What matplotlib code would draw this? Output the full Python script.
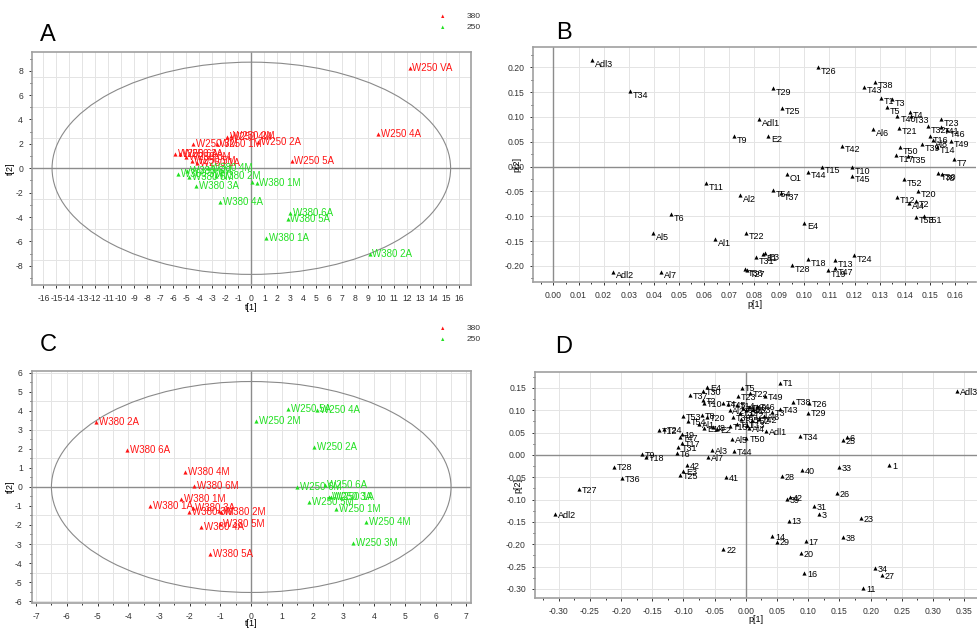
import matplotlib.pyplot as plt
from matplotlib.patches import Ellipse
from matplotlib.ticker import MultipleLocator, FormatStrFormatter

plt.rcParams['font.family'] = ['Liberation Sans', 'DejaVu Sans']

RED = '#ff1414'
GREEN = '#22e022'
FRAME = '#a0a0a0'
GRID = '#e4e4e4'
ZERO = '#8c8c8c'

# ---- Panel A: scores, 380 nm (red) / 250 nm (green) ----
a_red_lab = ['W250 VA', 'W250 4A', 'W250 5A', 'W250 2A', 'W250 4M', 'W250 2M', 'W250 1M',
             'W250 3M', 'W250 6A', 'W250 3A', 'W250 6M', 'W250 5M', 'W250 1A']
a_red_x = [12.17, 9.74, 3.10, 0.55, -1.85, -1.6, -2.65, -4.45, -5.85, -5.45, -5.0, -4.6, -4.19]
a_red_y = [8.25, 2.84, 0.57, 2.15, 2.59, 2.65, 1.99, 1.99, 1.15, 1.2, 0.95, 0.6, 0.41]

a_grn_lab = ['W380 2A', 'W380 1A', 'W380 5A', 'W380 6A', 'W380 1M', '', 'W380 4A',
             'W380 3A', 'W380 2M', 'W380 4M', 'W380 6M', 'W380 5M', 'W380 3M']
a_grn_x = [9.1, 1.13, 2.79, 2.97, 0.41, 0.03, -2.4, -4.24, -2.7, -3.35, -4.96, -4.76, -5.65]
a_grn_y = [-7.02, -5.69, -4.16, -3.64, -1.23, -1.15, -2.79, -1.42, -0.6, 0.0, -0.19, -0.68, -0.46]

# ---- Panel B: loadings p[1]/p[2] ----
b_lab = ['Adl3', 'T34', 'T9', 'T11', 'T6', 'Al5', 'Al1', 'Adl2', 'Al7', 'T26', 'T29', 'T25',
         'Adl1', 'E2', 'T42', 'T38', 'T43', 'T1', 'T3', 'T5', 'T4', 'T40', 'T33', 'Al6', 'T21',
         'T23', 'T32', 'T41', 'T46', 'T16', 'Al8', 'T39', 'T14', 'T49', 'T50', 'T17', 'T35',
         'T7', 'T15', 'T10', 'T44', 'O1', 'T45', 'T30', 'T8', 'T52', 'T20', 'T12', 'Al4', 'T2',
         'T53', 'T51', 'T54', 'T37', 'Al2', 'E4', 'T22', 'T31', 'E1', 'E3', 'T18', 'T28', 'T13',
         'T24', 'T19', 'T47', 'T36', 'T27']
b_x = [0.0153, 0.0306, 0.0721, 0.0608, 0.0469, 0.0398, 0.0644, 0.0239, 0.0428, 0.1056, 0.0874,
       0.0912, 0.0821, 0.0857, 0.1151, 0.1282, 0.1239, 0.1304, 0.1351, 0.1328, 0.1421, 0.1371,
       0.1424, 0.1275, 0.1378, 0.1543, 0.1494, 0.1545, 0.1567, 0.1500, 0.1511, 0.1468, 0.1527,
       0.1584, 0.1381, 0.1364, 0.1414, 0.1598, 0.1069, 0.1189, 0.1016, 0.0930, 0.1189, 0.1534,
       0.1548, 0.1398, 0.1452, 0.1368, 0.1417, 0.1445, 0.1445, 0.1477, 0.0874, 0.0907, 0.0744,
       0.1000, 0.0768, 0.0806, 0.0837, 0.0845, 0.1016, 0.0952, 0.1122, 0.1198, 0.1096, 0.1122,
       0.0764, 0.0773]
b_y = [0.215, 0.152, 0.062, -0.0335, -0.0954, -0.134, -0.146, -0.2117, -0.2117, 0.200, 0.158,
       0.119, 0.0955, 0.0625, 0.0423, 0.171, 0.161, 0.139, 0.1365, 0.1197, 0.111, 0.103, 0.101,
       0.0754, 0.0786, 0.0955, 0.082, 0.080, 0.074, 0.0617, 0.0538, 0.045, 0.040, 0.052, 0.039,
       0.0236, 0.0216, 0.0155, 0.000, -0.001, -0.010, -0.0147, -0.018, -0.0134, -0.015, -0.0248,
       -0.0484, -0.0605, -0.0726, -0.0685, -0.1008, -0.0994, -0.0476, -0.0537, -0.057, -0.113,
       -0.133, -0.1827, -0.176, -0.1747, -0.186, -0.198, -0.188, -0.179, -0.208, -0.205, -0.206,
       -0.208]

# ---- Panel C: scores ----
c_red_lab = ['W380 2A', 'W380 6A', 'W380 4M', 'W380 6M', 'W380 1M', 'W380 1A', 'W380 3A',
             'W380 3M', 'W380 2M', '', 'W380 5M', 'W380 4A', 'W380 5A']
c_red_x = [-5.04, -4.04, -2.14, -1.87, -2.27, -3.30, -1.91, -2.02, -0.97, -1.06, -1.02, -1.62, -1.35]
c_red_y = [3.44, 1.95, 0.81, 0.07, -0.63, -1.00, -1.09, -1.30, -1.30, -1.26, -1.96, -2.12, -3.53]

c_grn_lab = ['W250 2M', 'W250 5A', 'W250 4A', 'W250 2A', 'W250 6A', 'W250 6M', 'W250 3A',
             'W250 1A', 'W250 5M', 'W250 1M', 'W250 4M', 'W250 3M']
c_grn_x = [0.17, 1.20, 2.15, 2.04, 2.39, 1.49, 2.53, 2.60, 1.88, 2.75, 3.73, 3.31]
c_grn_y = [3.49, 4.09, 4.05, 2.09, 0.10, -0.02, -0.52, -0.55, -0.77, -1.16, -1.82, -2.97]

# ---- Panel D: loadings ----
d_lab = ['Adl2', 'T27', 'T28', 'T36', 'T9', 'T18', 'T12', 'T24', '42', 'E3', 'T25', '22', '41',
         'Al7', 'Al3', 'T44', 'Al5', 'T50', 'T6', 'T31', 'T17', 'T47', '19', 'T53', 'T54', 'T8',
         'T20', 'E1', 'Al1', '48', 'E2', 'T37', 'E4', 'T30', 'T2', 'T10', 'T4', 'T45', 'T5',
         'T22', 'T49', 'T23', 'Al2', 'T14', 'T16', 'T40', 'T33', 'T46', 'T32', 'T41', 'T21',
         'T39', 'T35', 'T52', 'T11', 'T13', 'Al4', 'T15',
         'T1', 'Adl3', 'T38', 'T26', 'T43', 'T29', 'T3', 'Al6', 'T42', 'Adl1', 'T34', '6', '25',
         '1', '33', '40', '28', '26', '39', '42', '31', '3', '23', '13', '38', '14', '29', '17',
         '20', '16', '34', '27', '11']
d_x = [-0.306, -0.267, -0.211, -0.198, -0.167, -0.160, -0.139, -0.131, -0.095, -0.100, -0.106,
       -0.036, -0.032, -0.061, -0.054, -0.019, -0.022, 0.001, -0.111, -0.108, -0.102, -0.105,
       -0.103, -0.101, -0.093, -0.071, -0.062, -0.067, -0.075, -0.053, -0.046, -0.089, -0.062,
       -0.068, -0.069, -0.067, -0.036, -0.028, -0.006, 0.006, 0.030, -0.012, -0.026, -0.015,
       -0.005, 0.005, 0.012, 0.018, -0.010, 0.000, 0.008, -0.020, -0.008, 0.010, -0.015, 0.002,
       0.005, -0.025,
       0.0545, 0.3386, 0.0758, 0.101, 0.0545, 0.0989, 0.0422, 0.0294, 0.0214, 0.032, 0.0865,
       0.162, 0.155, 0.2297, 0.1495, 0.0893, 0.0572, 0.1453, 0.0662, 0.070, 0.109, 0.117,
       0.1838, 0.0689, 0.156, 0.0422, 0.0491, 0.0962, 0.0876, 0.0935, 0.2067, 0.2185, 0.188]
d_y = [-0.133, -0.076, -0.026, -0.051, 0.0015, -0.004, 0.056, 0.0576, -0.022, -0.036, -0.045,
       -0.211, -0.0486, -0.004, 0.011, 0.0097, 0.035, 0.0374, 0.005, 0.017, 0.0276, 0.040,
       0.046, 0.087, 0.075, 0.090, 0.0845, 0.060, 0.069, 0.062, 0.057, 0.135, 0.153, 0.1435,
       0.123, 0.116, 0.116, 0.113, 0.151, 0.138, 0.131, 0.131, 0.101, 0.112, 0.105, 0.108,
       0.102, 0.110, 0.095, 0.100, 0.092, 0.085, 0.080, 0.078, 0.070, 0.068, 0.060, 0.065,
       0.162, 0.144, 0.1195, 0.117, 0.103, 0.095, 0.0957, 0.0874, 0.080, 0.0538, 0.0426,
       0.041, 0.0336, -0.0224, -0.0276, -0.0336, -0.047, -0.086, -0.0994, -0.095, -0.114,
       -0.133, -0.142, -0.147, -0.183, -0.182, -0.194, -0.192, -0.220, -0.265, -0.254, -0.269,
       -0.299]


def style(ax, xlim, ylim, xmaj, xmin, ymaj, ymin, xfmt, yfmt, xgrid, ygrid):
    ax.set_xlim(xlim)
    ax.set_ylim(ylim)
    ax.xaxis.set_major_locator(MultipleLocator(xmaj))
    ax.xaxis.set_minor_locator(MultipleLocator(xmin))
    ax.yaxis.set_major_locator(MultipleLocator(ymaj))
    ax.yaxis.set_minor_locator(MultipleLocator(ymin))
    ax.xaxis.set_major_formatter(FormatStrFormatter(xfmt))
    ax.yaxis.set_major_formatter(FormatStrFormatter(yfmt))
    ax.tick_params(which='both', labelsize=6.2, colors='#333333', length=2.5, width=0.7,
                   direction='out', pad=4)
    ax.tick_params(which='minor', length=1.5)
    for s in ax.spines.values():
        s.set_color(FRAME)
        s.set_linewidth(1.2)
    for v in xgrid:
        ax.axvline(v, color=GRID, lw=0.7, zorder=0)
    for v in ygrid:
        ax.axhline(v, color=GRID, lw=0.7, zorder=0)
    ax.axhline(0, color=ZERO, lw=1.0, zorder=1)
    ax.axvline(0, color=ZERO, lw=1.0, zorder=1)


def points(ax, xs, ys, labs, color, fs, dy):
    ax.scatter(xs, ys, marker='^', s=9, color=color, lw=0, zorder=3)
    for x, y, t in zip(xs, ys, labs):
        if t:
            ax.annotate(t, (x, y), xytext=(2, dy), textcoords='offset points',
                        fontsize=fs, color=color, va='center', ha='left', zorder=4)


def frange(a, b, step):
    n = int(round((b - a) / step))
    return [a + i * step for i in range(n + 1)]


fig = plt.figure(figsize=(9.77, 6.30), dpi=100)

# A
axA = fig.add_axes([0.0328, 0.5476, 0.4493, 0.3698])
style(axA, (-16.87, 16.9), (-9.57, 9.53), 1, 1, 2, 1, '%d', '%d', frange(-16, 16, 1),
      [-7.5, -5, -2.5, 2.5, 5, 7.5])
axA.add_patch(Ellipse((0, 0), 2 * 15.33, 2 * 8.7, fill=False, ec='#8a8a8a', lw=0.8, zorder=2))
points(axA, a_red_x, a_red_y, a_red_lab, RED, 7, 0)
points(axA, a_grn_x, a_grn_y, a_grn_lab, GREEN, 7, 0)
axA.set_xlabel('t[1]', fontsize=6.5, labelpad=0)
axA.set_ylabel('t[2]', fontsize=6.5, labelpad=0)

# B
axB = fig.add_axes([0.5459, 0.5519, 0.4531, 0.3735])
style(axB, (-0.008, 0.1684), (-0.233, 0.241), 0.01, 0.005, 0.05, 0.025, '%.2f', '%.2f',
      frange(0.0, 0.16, 0.01), frange(-0.20, 0.20, 0.05))
axB.spines['right'].set_visible(False)
points(axB, b_x, b_y, b_lab, 'black', 6.5, -3)
axB.set_xlabel('p[1]', fontsize=6.5, labelpad=0)
axB.set_ylabel('p[2]', fontsize=6.5, labelpad=-12)

# C
axC = fig.add_axes([0.0325, 0.0433, 0.4496, 0.3683])
style(axC, (-7.14, 7.15), (-6.09, 6.12), 1, 0.5, 1, 0.5, '%d', '%d', frange(-7, 7, 0.5),
      frange(-6, 6, 1.5))
axC.add_patch(Ellipse((0, 0), 2 * 6.5, 2 * 5.55, fill=False, ec='#8a8a8a', lw=0.8, zorder=2))
points(axC, c_red_x, c_red_y, c_red_lab, RED, 7, 0)
points(axC, c_grn_x, c_grn_y, c_grn_lab, GREEN, 7, 0)
axC.set_xlabel('t[1]', fontsize=6.5, labelpad=-1)
axC.set_ylabel('t[2]', fontsize=6.5, labelpad=0)

# D
axD = fig.add_axes([0.5476, 0.0503, 0.4521, 0.3587])
style(axD, (-0.338, 0.37), (-0.321, 0.185), 0.05, 0.025, 0.05, 0.025, '%.2f', '%.2f',
      frange(-0.30, 0.35, 0.05), frange(-0.30, 0.15, 0.05))
axD.spines['right'].set_visible(False)
points(axD, d_x, d_y, d_lab, 'black', 6.5, -1)
axD.set_xlabel('p[1]', fontsize=6.5, labelpad=-1)
axD.set_ylabel('p[2]', fontsize=6.5, labelpad=-12)

# panel letters
for lx, ly, t in [(0.049, 0.945, 'A'), (0.577, 0.948, 'B'), (0.049, 0.452, 'C'), (0.577, 0.449, 'D')]:
    fig.text(lx, ly, t, fontsize=17, ha='center', va='center')

# legends for score plots
for ly in (0.974, 0.479):
    fig.text(0.4535, ly, '\u25b2', color=RED, fontsize=4, ha='center', va='center')
    fig.text(0.4535, ly - 0.018, '\u25b2', color=GREEN, fontsize=4, ha='center', va='center')
    fig.text(0.492, ly, '380', fontsize=6, ha='right', va='center', color='#333333')
    fig.text(0.492, ly - 0.018, '250', fontsize=6, ha='right', va='center', color='#333333')

fig.savefig('out.png', dpi=100)
